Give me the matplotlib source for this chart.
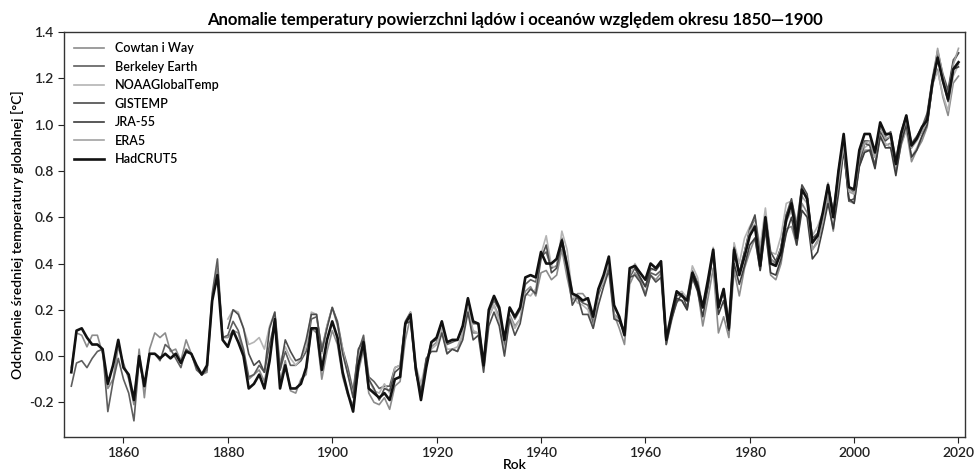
import numpy as np
import matplotlib
matplotlib.use("Agg")
import matplotlib.pyplot as plt

plt.rcParams['font.family'] = ['Lato', 'DejaVu Sans']

# anomalie wzgledem 1850-1900 [°C]
hadcrut5 = [
    -0.07, 0.11, 0.12, 0.08, 0.05, 0.05, 0.03, -0.12, -0.04, 0.07,
    -0.05, -0.08, -0.19, 0.00, -0.13, 0.01, 0.01, -0.01, 0.01, -0.01,
    0.01, -0.03, 0.02, 0.01, -0.04, -0.08, -0.04, 0.24, 0.35, 0.07,
    0.04, 0.11, 0.06, 0.00, -0.14, -0.12, -0.08, -0.14, -0.02, 0.16,
    -0.14, -0.04, -0.14, -0.14, -0.12, -0.05, 0.12, 0.12, -0.06, 0.07,
    0.15, 0.08, -0.07, -0.16, -0.24, -0.04, 0.06, -0.14, -0.16, -0.18,
    -0.16, -0.19, -0.10, -0.09, 0.14, 0.18, -0.05, -0.19, -0.05, 0.06,
    0.08, 0.15, 0.06, 0.07, 0.07, 0.13, 0.25, 0.15, 0.14, -0.04,
    0.20, 0.26, 0.21, 0.07, 0.21, 0.17, 0.21, 0.34, 0.35, 0.34,
    0.45, 0.40, 0.40, 0.42, 0.50, 0.39, 0.27, 0.26, 0.24, 0.25,
    0.17, 0.29, 0.35, 0.43, 0.22, 0.17, 0.09, 0.38, 0.39, 0.36,
    0.33, 0.40, 0.38, 0.41, 0.07, 0.18, 0.28, 0.26, 0.24, 0.36,
    0.30, 0.21, 0.33, 0.46, 0.21, 0.29, 0.12, 0.46, 0.35, 0.43,
    0.52, 0.56, 0.39, 0.60, 0.40, 0.39, 0.45, 0.59, 0.66, 0.51,
    0.72, 0.68, 0.49, 0.52, 0.62, 0.74, 0.60, 0.80, 0.96, 0.73,
    0.72, 0.89, 0.96, 0.96, 0.88, 1.01, 0.96, 0.96, 0.83, 0.96,
    1.04, 0.91, 0.94, 0.99, 1.02, 1.18, 1.29, 1.19, 1.11, 1.24, 1.27,
]

cowtan_way = [
    -0.05, 0.10, 0.09, 0.04, 0.09, 0.09, 0.01, -0.14, -0.10, 0.04,
    -0.03, -0.10, -0.21, 0.03, -0.18, 0.03, 0.10, 0.08, 0.10, 0.02,
    0.03, -0.02, 0.07, 0.01, -0.05, -0.08, -0.07, 0.24, 0.38, 0.08,
    0.08, 0.11, 0.10, 0.01, -0.10, -0.08, -0.06, -0.11, 0.00, 0.14,
    -0.11, -0.02, -0.15, -0.16, -0.10, -0.08, 0.12, 0.10, -0.10, 0.02,
    0.11, 0.05, -0.09, -0.17, -0.21, -0.07, 0.03, -0.16, -0.20, -0.21,
    -0.18, -0.23, -0.13, -0.11, 0.07, 0.17, -0.07, -0.16, -0.02, 0.04,
    0.06, 0.12, 0.01, 0.03, 0.02, 0.10, 0.20, 0.10, 0.10, -0.04,
    0.17, 0.22, 0.17, 0.04, 0.18, 0.13, 0.16, 0.28, 0.30, 0.26,
    0.36, 0.37, 0.33, 0.35, 0.46, 0.34, 0.24, 0.27, 0.27, 0.24,
    0.14, 0.26, 0.34, 0.41, 0.18, 0.12, 0.05, 0.31, 0.36, 0.33,
    0.27, 0.35, 0.33, 0.36, 0.05, 0.15, 0.24, 0.24, 0.20, 0.34,
    0.29, 0.13, 0.25, 0.38, 0.10, 0.17, 0.08, 0.37, 0.26, 0.38,
    0.45, 0.51, 0.37, 0.55, 0.35, 0.33, 0.40, 0.55, 0.56, 0.48,
    0.66, 0.62, 0.46, 0.50, 0.56, 0.69, 0.54, 0.75, 0.90, 0.67,
    0.66, 0.82, 0.89, 0.89, 0.83, 0.95, 0.91, 0.92, 0.80, 0.91,
    0.98, 0.84, 0.89, 0.93, 0.99, 1.17, 1.24, 1.12, 1.04, 1.18, 1.21,
]

berkeley = [
    -0.13, -0.03, -0.02, -0.05, -0.01, 0.02, 0.03, -0.24, -0.11, -0.01,
    -0.10, -0.16, -0.28, -0.02, -0.13, 0.01, 0.01, -0.02, 0.05, 0.03,
    -0.01, -0.05, 0.03, 0.01, -0.06, -0.08, -0.06, 0.27, 0.42, 0.08,
    0.09, 0.15, 0.11, 0.03, -0.09, -0.08, -0.04, -0.07, 0.05, 0.15,
    -0.06, 0.02, -0.04, -0.04, -0.02, 0.02, 0.16, 0.17, 0.03, 0.13,
    0.21, 0.15, 0.03, -0.05, -0.15, 0.02, 0.09, -0.09, -0.11, -0.14,
    -0.13, -0.13, -0.05, -0.04, 0.15, 0.19, -0.05, -0.15, -0.03, 0.06,
    0.07, 0.15, 0.05, 0.06, 0.07, 0.13, 0.25, 0.14, 0.14, -0.02,
    0.19, 0.24, 0.20, 0.05, 0.21, 0.16, 0.20, 0.31, 0.33, 0.32,
    0.43, 0.45, 0.38, 0.39, 0.51, 0.40, 0.27, 0.25, 0.23, 0.22,
    0.14, 0.27, 0.32, 0.39, 0.18, 0.16, 0.11, 0.34, 0.38, 0.34,
    0.30, 0.36, 0.35, 0.37, 0.07, 0.17, 0.26, 0.27, 0.24, 0.37,
    0.32, 0.21, 0.32, 0.45, 0.21, 0.28, 0.14, 0.45, 0.36, 0.45,
    0.54, 0.60, 0.43, 0.61, 0.42, 0.40, 0.47, 0.61, 0.66, 0.55,
    0.72, 0.68, 0.51, 0.53, 0.60, 0.74, 0.62, 0.80, 0.95, 0.72,
    0.71, 0.86, 0.93, 0.93, 0.86, 1.00, 0.95, 0.97, 0.85, 0.97,
    1.04, 0.92, 0.95, 0.99, 1.05, 1.20, 1.32, 1.22, 1.15, 1.28, 1.31,
]

noaa = [
    0.16, 0.20, 0.19, 0.12, 0.05, 0.06, 0.08, 0.03, 0.13, 0.19,
    -0.03, 0.04, -0.01, -0.04, -0.01, 0.04, 0.19, 0.18, 0.01, 0.13,
    0.21, 0.13, 0.03, -0.08, -0.17, 0.00, 0.07, -0.10, -0.15, -0.16,
    -0.12, -0.16, -0.05, -0.04, 0.13, 0.19, -0.04, -0.12, -0.02, 0.03,
    0.05, 0.12, 0.03, 0.03, 0.04, 0.10, 0.21, 0.11, 0.10, -0.05,
    0.17, 0.22, 0.15, 0.02, 0.17, 0.12, 0.16, 0.27, 0.26, 0.29,
    0.44, 0.52, 0.39, 0.38, 0.54, 0.46, 0.27, 0.23, 0.22, 0.20,
    0.12, 0.28, 0.32, 0.41, 0.18, 0.15, 0.10, 0.35, 0.40, 0.36,
    0.33, 0.37, 0.38, 0.40, 0.09, 0.19, 0.27, 0.28, 0.25, 0.39,
    0.34, 0.21, 0.32, 0.47, 0.22, 0.29, 0.16, 0.49, 0.40, 0.51,
    0.56, 0.60, 0.47, 0.64, 0.45, 0.44, 0.52, 0.66, 0.67, 0.58,
    0.73, 0.67, 0.52, 0.56, 0.62, 0.75, 0.60, 0.79, 0.93, 0.72,
    0.70, 0.85, 0.90, 0.92, 0.86, 0.95, 0.92, 0.90, 0.82, 0.92,
    0.98, 0.86, 0.90, 0.95, 1.02, 1.18, 1.23, 1.13, 1.06, 1.21, 1.26,
]

gistemp = [
    0.12, 0.20, 0.18, 0.12, 0.01, -0.04, -0.02, -0.07, 0.12, 0.19,
    -0.06, 0.07, 0.02, -0.02, -0.01, 0.07, 0.18, 0.18, 0.02, 0.12,
    0.21, 0.14, 0.01, -0.08, -0.18, 0.03, 0.07, -0.10, -0.14, -0.19,
    -0.14, -0.15, -0.07, -0.05, 0.14, 0.15, -0.07, -0.17, -0.01, 0.02,
    0.02, 0.10, 0.01, 0.03, 0.02, 0.07, 0.19, 0.07, 0.09, -0.07,
    0.13, 0.19, 0.13, 0.00, 0.16, 0.09, 0.14, 0.26, 0.29, 0.27,
    0.42, 0.48, 0.36, 0.38, 0.49, 0.38, 0.22, 0.26, 0.18, 0.18,
    0.12, 0.22, 0.30, 0.37, 0.16, 0.15, 0.10, 0.34, 0.35, 0.32,
    0.26, 0.35, 0.32, 0.34, 0.05, 0.16, 0.23, 0.27, 0.21, 0.34,
    0.32, 0.21, 0.30, 0.45, 0.22, 0.28, 0.14, 0.47, 0.36, 0.45,
    0.55, 0.61, 0.43, 0.60, 0.45, 0.41, 0.47, 0.61, 0.68, 0.56,
    0.74, 0.70, 0.51, 0.52, 0.60, 0.74, 0.62, 0.75, 0.90, 0.67,
    0.68, 0.83, 0.92, 0.91, 0.82, 0.97, 0.93, 0.95, 0.83, 0.94,
    1.01, 0.90, 0.94, 0.97, 1.04, 1.19, 1.30, 1.21, 1.14, 1.27, 1.31,
]

jra55 = [
    0.38, 0.34,
    0.30, 0.38, 0.37, 0.40, 0.07, 0.16, 0.25, 0.24, 0.20, 0.34,
    0.28, 0.17, 0.30, 0.45, 0.18, 0.24, 0.11, 0.40, 0.31, 0.39,
    0.48, 0.51, 0.37, 0.55, 0.36, 0.35, 0.42, 0.53, 0.60, 0.48,
    0.63, 0.60, 0.42, 0.45, 0.55, 0.66, 0.55, 0.70, 0.89, 0.68,
    0.66, 0.82, 0.88, 0.89, 0.81, 0.95, 0.90, 0.90, 0.78, 0.92,
    1.00, 0.86, 0.89, 0.95, 1.00, 1.17, 1.29, 1.19, 1.10, 1.24, 1.25,
]

era5 = [
    0.45,
    0.54, 0.57, 0.42, 0.60, 0.42, 0.39, 0.47, 0.58, 0.63, 0.53,
    0.69, 0.66, 0.46, 0.49, 0.58, 0.72, 0.60, 0.75, 0.91, 0.71,
    0.70, 0.86, 0.92, 0.93, 0.86, 0.99, 0.94, 0.95, 0.84, 0.95,
    1.02, 0.90, 0.93, 0.97, 1.02, 1.16, 1.33, 1.21, 1.12, 1.26, 1.33,
]

series = [
    ('Cowtan i Way', 1850, cowtan_way, '#8c8c8c', 1.2),
    ('Berkeley Earth', 1850, berkeley, '#5e5e5e', 1.2),
    ('NOAAGlobalTemp', 1880, noaa, '#b4b4b4', 1.2),
    ('GISTEMP', 1880, gistemp, '#4c4c4c', 1.2),
    ('JRA-55', 1958, jra55, '#3c3c3c', 1.2),
    ('ERA5', 1979, era5, '#a2a2a2', 1.2),
    ('HadCRUT5', 1850, hadcrut5, '#111111', 1.9),
]

fig = plt.figure(figsize=(9.77, 4.73), dpi=100)
ax = fig.add_axes([0.0655, 0.076, 0.9225, 0.856])

for name, start, vals, col, lw in series:
    yrs = np.arange(start, start + len(vals))
    ax.plot(yrs, vals, color=col, lw=lw, label=name)

ax.set_xlim(1848.6, 2021.3)
ax.set_ylim(-0.35, 1.4)
ax.set_xticks(np.arange(1860, 2021, 20))
ax.set_yticks(np.arange(-0.2, 1.41, 0.2))
ax.yaxis.set_major_formatter(matplotlib.ticker.FormatStrFormatter('%.1f'))
ax.tick_params(labelsize=10, colors='#222222', length=4)
for lab in ax.get_xticklabels() + ax.get_yticklabels():
    lab.set_fontweight('semibold')
for s in ax.spines.values():
    s.set_color('#333333')
    s.set_linewidth(1.0)

ax.set_title('Anomalie temperatury powierzchni lądów i oceanów względem okresu 1850—1900',
             fontsize=12, fontweight='bold', pad=5)
ax.set_xlabel('Rok', fontsize=10, fontweight='semibold', labelpad=0)
ax.set_ylabel('Odchylenie średniej temperatury globalnej [°C]', fontsize=10,
              fontweight='semibold', labelpad=4)

leg = ax.legend(loc='upper left', frameon=False, handlelength=2.4,
                labelspacing=0.52, handletextpad=0.85, borderaxespad=0.4,
                prop={'size': 9, 'weight': 'semibold'})

fig.savefig('out.png', dpi=100)
